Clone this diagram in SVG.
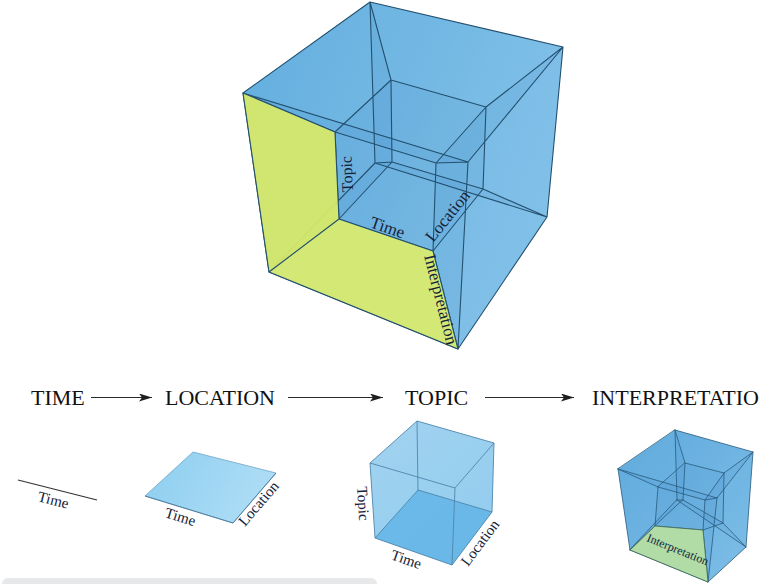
<svg xmlns="http://www.w3.org/2000/svg" width="760" height="584" viewBox="0 0 760 584">
<style>
.f{fill:#1a6db3;fill-opacity:0.065}
.e{fill:none;stroke:#23506f;stroke-width:1.1;stroke-linejoin:round;stroke-linecap:round}
.es{fill:none;stroke:#2a5a7c;stroke-width:0.8;stroke-linejoin:round;stroke-linecap:round}
.ec{fill:none;stroke:#4f86ad;stroke-width:0.9;stroke-linejoin:round}
.lbl{font-family:"Liberation Serif","Times New Roman",serif;fill:#14233a}
.hd{font-family:"Liberation Serif","Times New Roman",serif;fill:#111;font-size:22px}
.arr{stroke:#2a2a2a;stroke-width:1.1;fill:none}
</style>
<defs>
<linearGradient id="gMain" x1="243" y1="93" x2="563" y2="220" gradientUnits="userSpaceOnUse">
<stop offset="0" stop-color="#78c2eb"/><stop offset="1" stop-color="#9cd8f6"/>
</linearGradient>
<linearGradient id="gSmall" x1="618" y1="450" x2="753" y2="560" gradientUnits="userSpaceOnUse">
<stop offset="0" stop-color="#72bce9"/><stop offset="1" stop-color="#92d1f3"/>
</linearGradient>
<linearGradient id="gCube" x1="370" y1="421" x2="494" y2="565" gradientUnits="userSpaceOnUse">
<stop offset="0" stop-color="#b6dff6"/><stop offset="1" stop-color="#a2d6f3"/>
</linearGradient>
<linearGradient id="gPlane" x1="145" y1="452" x2="276" y2="523" gradientUnits="userSpaceOnUse">
<stop offset="0" stop-color="#8ccdf0"/><stop offset="1" stop-color="#b4e0f6"/>
</linearGradient>
<marker id="ah" viewBox="0 0 13 8" refX="13" refY="4" markerWidth="13" markerHeight="8" markerUnits="userSpaceOnUse" orient="auto">
<path d="M0,0 L13,4 L0,8 L3,4 Z" fill="#1e1e1e"/>
</marker>
</defs>

<g id="tesseract-main">
<polygon points="370,2 563,47 547,217 458,349 269,272 243,93" fill="url(#gMain)"/>
<g class="f">
<polygon points="370,2 563,47 468,162 243,93"/>
<polygon points="375,163 547,217 458,349 269,272"/>
<polygon points="243,93 468,162 458,349 269,272"/>
<polygon points="468,162 563,47 547,217 458,349"/>
<polygon points="370,2 243,93 269,272 375,163"/>
<polygon points="370,2 563,47 547,217 375,163"/>
<polygon points="391,80 486,107 436,163 335,132"/>
<polygon points="392,162 483,189 433,251 339,219"/>
<polygon points="335,132 436,163 433,251 339,219"/>
<polygon points="436,163 486,107 483,189 433,251"/>
<polygon points="391,80 335,132 339,219 392,162"/>
<polygon points="391,80 486,107 483,189 392,162"/>
<polygon points="370,2 563,47 486,107 391,80"/>
<polygon points="563,47 468,162 436,163 486,107"/>
<polygon points="468,162 243,93 335,132 436,163"/>
<polygon points="243,93 370,2 391,80 335,132"/>
<polygon points="375,163 547,217 483,189 392,162"/>
<polygon points="547,217 458,349 433,251 483,189"/>
<polygon points="458,349 269,272 339,219 433,251"/>
<polygon points="269,272 375,163 392,162 339,219"/>
<polygon points="370,2 375,163 392,162 391,80"/>
<polygon points="563,47 547,217 483,189 486,107"/>
<polygon points="468,162 458,349 433,251 436,163"/>
<polygon points="243,93 269,272 339,219 335,132"/>
</g>
<path class="e" d="M370,2 L563,47 L468,162 L243,93 Z M375,163 L547,217 L458,349 L269,272 Z M370,2 L375,163 M563,47 L547,217 M468,162 L458,349 M243,93 L269,272 M391,80 L486,107 L436,163 L335,132 Z M392,162 L483,189 L433,251 L339,219 Z M391,80 L392,162 M486,107 L483,189 M436,163 L433,251 M335,132 L339,219 M370,2 L391,80 M563,47 L486,107 M468,162 L436,163 M243,93 L335,132 M375,163 L392,162 M547,217 L483,189 M458,349 L433,251 M269,272 L339,219"/>
<polygon points="243,93 269,272 339,219 335,132" fill="#d7e968" fill-opacity="0.94"/>
<polygon points="458,349 269,272 339,219 433,251" fill="#daeb6e" fill-opacity="0.94"/>
<path class="e" d="M243,93 L269,272 L458,349 L433,251 L339,219 L335,132 L243,93 M269,272 L339,219" stroke="#3f5a3a"/>
<text class="lbl" font-size="16" transform="translate(353,192) rotate(-92.6)">Topic</text>
<text class="lbl" font-size="17" transform="translate(369,227) rotate(18.8)">Time</text>
<text class="lbl" font-size="17" transform="translate(433,243) rotate(-51.1)">Location</text>
<text class="lbl" font-size="17" transform="translate(424,256) rotate(75.7)">Interpretation</text>
</g>

<g id="heading-time"><text class="hd" x="31" y="405">TIME</text></g>
<g id="heading-location"><text class="hd" x="165" y="405">LOCATION</text></g>
<g id="heading-topic"><text class="hd" x="405" y="405">TOPIC</text></g>
<g id="heading-interpretation"><text class="hd" x="592" y="405" font-size="21.6">INTERPRETATIO</text></g>

<g id="connectors">
<line class="arr" x1="91" y1="397.5" x2="152" y2="397.5" marker-end="url(#ah)"/>
<line class="arr" x1="288" y1="397.5" x2="383" y2="397.5" marker-end="url(#ah)"/>
<line class="arr" x1="485" y1="397.5" x2="574" y2="397.5" marker-end="url(#ah)"/>
</g>

<g id="fig-line">
<line x1="18" y1="480" x2="97" y2="500" stroke="#333" stroke-width="1.2"/>
<text class="lbl" font-size="15" fill="#222" transform="translate(37,501) rotate(14.2)">Time</text>
</g>

<g id="fig-plane">
<polygon points="145,496 193,452 276,473 233,523" fill="url(#gPlane)" stroke="#6ea4c8" stroke-width="0.8"/>
<path d="M145,496 L233,523 L276,473" fill="none" stroke="#4a7898" stroke-width="0.9"/>
<text class="lbl" font-size="15" transform="translate(164,517) rotate(17)">Time</text>
<text class="lbl" font-size="15" transform="translate(245,527) rotate(-49.3)">Location</text>
</g>

<g id="fig-cube">
<polygon points="370,463 417,421 494,443 492,512 452,565 375,538" fill="url(#gCube)"/>
<g fill="#2a8ad0" fill-opacity="0.07">
<polygon points="370,463 417,421 494,443 455,488"/>
<polygon points="370,463 455,488 452,565 375,538"/>
<polygon points="455,488 494,443 492,512 452,565"/>
<polygon points="370,463 417,421 418,490 375,538"/>
<polygon points="417,421 494,443 492,512 418,490"/>
</g>
<polygon points="375,538 418,490 492,512 452,565" fill="#49a8e2" fill-opacity="0.62"/>
<path class="ec" d="M370,463 L417,421 L494,443 L455,488 Z M375,538 L418,490 L492,512 L452,565 Z M370,463 L375,538 M417,421 L418,490 M494,443 L492,512 M455,488 L452,565"/>
<text class="lbl" font-size="15" transform="translate(357,487) rotate(86.2)">Topic</text>
<text class="lbl" font-size="15" transform="translate(390,559) rotate(19.3)">Time</text>
<text class="lbl" font-size="15" transform="translate(468,567) rotate(-53)">Location</text>
</g>

<g id="tesseract-small">
<polygon points="675,430 753,452 746,547 708,582 630,550 618,469" fill="url(#gSmall)"/>
<g class="f">
<polygon points="675,430 753,452 717,498 618,469"/>
<polygon points="677,500 746,547 708,582 630,550"/>
<polygon points="618,469 717,498 708,582 630,550"/>
<polygon points="717,498 753,452 746,547 708,582"/>
<polygon points="675,430 618,469 630,550 677,500"/>
<polygon points="675,430 753,452 746,547 677,500"/>
<polygon points="685,463 724,473 705,500 658,487"/>
<polygon points="683,500 723,523 703,530 655,526"/>
<polygon points="658,487 705,500 703,530 655,526"/>
<polygon points="705,500 724,473 723,523 703,530"/>
<polygon points="685,463 658,487 655,526 683,500"/>
<polygon points="685,463 724,473 723,523 683,500"/>
<polygon points="675,430 753,452 724,473 685,463"/>
<polygon points="753,452 717,498 705,500 724,473"/>
<polygon points="717,498 618,469 658,487 705,500"/>
<polygon points="618,469 675,430 685,463 658,487"/>
<polygon points="677,500 746,547 723,523 683,500"/>
<polygon points="746,547 708,582 703,530 723,523"/>
<polygon points="630,550 677,500 683,500 655,526"/>
<polygon points="675,430 677,500 683,500 685,463"/>
<polygon points="753,452 746,547 723,523 724,473"/>
<polygon points="717,498 708,582 703,530 705,500"/>
<polygon points="618,469 630,550 655,526 658,487"/>
</g>
<path class="es" d="M675,430 L753,452 L717,498 L618,469 Z M677,500 L746,547 L708,582 L630,550 Z M675,430 L677,500 M753,452 L746,547 M717,498 L708,582 M618,469 L630,550 M685,463 L724,473 L705,500 L658,487 Z M683,500 L723,523 L703,530 L655,526 Z M685,463 L683,500 M724,473 L723,523 M705,500 L703,530 M658,487 L655,526 M675,430 L685,463 M753,452 L724,473 M717,498 L705,500 M618,469 L658,487 M677,500 L683,500 M746,547 L723,523 M708,582 L703,530 M630,550 L655,526"/>
<polygon points="708,582 630,550 655,526 703,530" fill="#b6dea0" fill-opacity="0.92" stroke="#3f6a55" stroke-width="0.8"/>
<text class="lbl" font-size="12" fill="#111" transform="translate(646,541) rotate(22)">Interpretation</text>
</g>

<rect x="2" y="578" width="375" height="14" rx="6" fill="#e7e8ea"/>
</svg>
